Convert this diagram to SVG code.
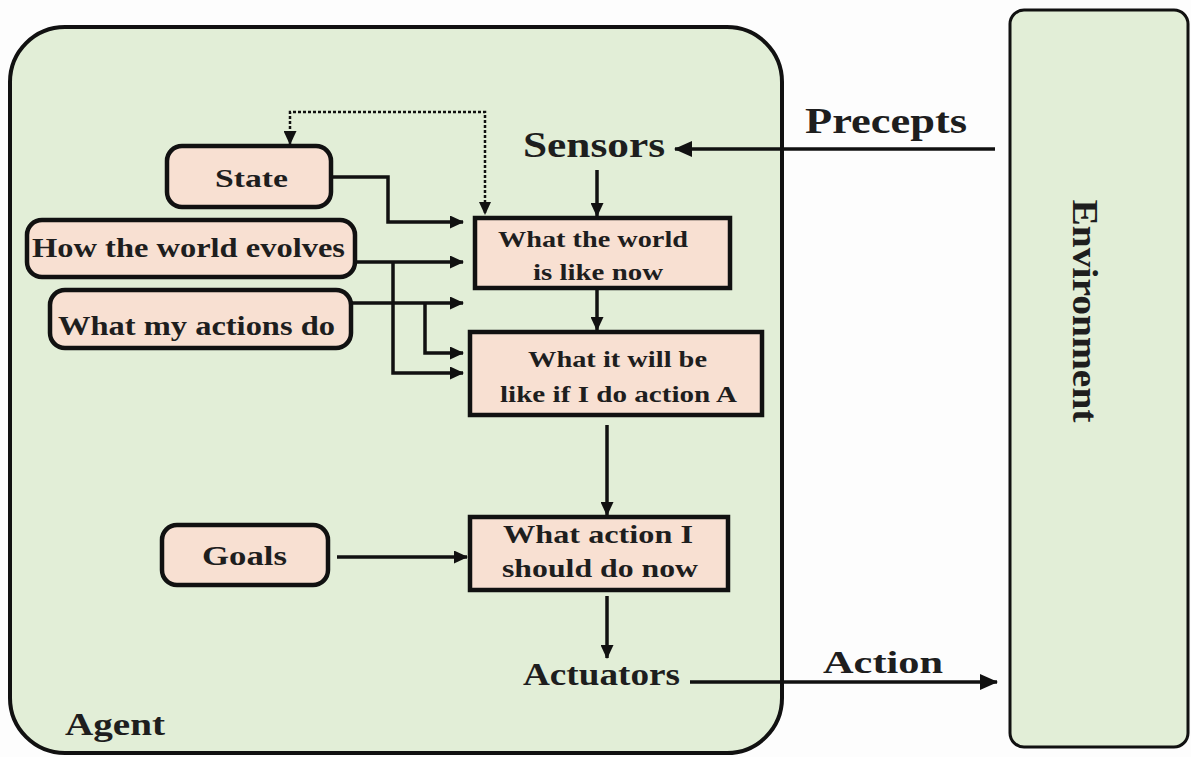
<svg xmlns="http://www.w3.org/2000/svg" width="1191" height="757" viewBox="0 0 1191 757">
<defs>
<marker id="ah" markerUnits="userSpaceOnUse" markerWidth="18" markerHeight="16" refX="17" refY="8" orient="auto">
<path d="M0,0 L18,8 L0,16 Z" fill="#111"/>
</marker>
<marker id="ahs" markerUnits="userSpaceOnUse" markerWidth="14" markerHeight="13" refX="13" refY="6.5" orient="auto">
<path d="M0,0 L14,6.5 L0,13 Z" fill="#111"/>
</marker>
</defs>
<style>
.panel{fill:#e2eed7;stroke:#111;stroke-width:4}
.env{fill:#e2eed7;stroke:#111;stroke-width:3}
.pill{fill:#f8e0d2;stroke:#111;stroke-width:4.5}
.box{fill:#f8e0d2;stroke:#111;stroke-width:4.5}
.t{font-family:"Liberation Serif",serif;font-weight:bold;fill:#1e1e1e}
.c{stroke:#111;stroke-width:3.5;fill:none}
.d{stroke:#111;stroke-width:2.5;fill:none;stroke-dasharray:3 2}
</style>
<rect width="1191" height="757" fill="#fdfdfd"/>
<g id="agent">
<rect class="panel" x="10" y="27" width="772" height="726" rx="55"/>
<text class="t" x="65" y="735" font-size="31" textLength="100" lengthAdjust="spacingAndGlyphs">Agent</text>
</g>
<g id="environment">
<rect class="env" x="1010" y="10" width="178" height="737" rx="14"/>
<text class="t" x="1073" y="311" font-size="36" text-anchor="middle" textLength="223" lengthAdjust="spacingAndGlyphs" transform="rotate(90 1073 311)">Environment</text>
</g>
<g id="sensors"><text class="t" x="523" y="157" font-size="35" textLength="142" lengthAdjust="spacingAndGlyphs">Sensors</text></g>
<g id="actuators"><text class="t" x="523" y="685" font-size="31" textLength="157" lengthAdjust="spacingAndGlyphs">Actuators</text></g>
<g id="precepts"><text class="t" x="805" y="133" font-size="35" textLength="162" lengthAdjust="spacingAndGlyphs">Precepts</text></g>
<g id="action"><text class="t" x="823" y="673" font-size="31" textLength="120" lengthAdjust="spacingAndGlyphs">Action</text></g>
<g id="state">
<rect class="pill" x="167" y="146" width="164" height="61" rx="15"/>
<text class="t" x="215" y="187" font-size="25" textLength="73" lengthAdjust="spacingAndGlyphs">State</text>
</g>
<g id="evolves">
<rect class="pill" x="27" y="220" width="328" height="57" rx="15"/>
<text class="t" x="32" y="257" font-size="27" textLength="313" lengthAdjust="spacingAndGlyphs">How the world evolves</text>
</g>
<g id="actionsdo">
<rect class="pill" x="50" y="290" width="301" height="58" rx="15"/>
<text class="t" x="58" y="335" font-size="27" textLength="277" lengthAdjust="spacingAndGlyphs">What my actions do</text>
</g>
<g id="goals">
<rect class="pill" x="162" y="525" width="166" height="60" rx="15"/>
<text class="t" x="202" y="565" font-size="27" textLength="85" lengthAdjust="spacingAndGlyphs">Goals</text>
</g>
<g id="worldnow">
<rect class="box" x="475" y="218" width="255" height="70"/>
<text class="t" x="498" y="247" font-size="23" textLength="190" lengthAdjust="spacingAndGlyphs">What the world</text>
<text class="t" x="533" y="280" font-size="23" textLength="130" lengthAdjust="spacingAndGlyphs">is like now</text>
</g>
<g id="willbe">
<rect class="box" x="470" y="332" width="292" height="83"/>
<text class="t" x="528" y="367" font-size="23" textLength="179" lengthAdjust="spacingAndGlyphs">What it will be</text>
<text class="t" x="500" y="402" font-size="23" textLength="237" lengthAdjust="spacingAndGlyphs">like if I do action A</text>
</g>
<g id="whataction">
<rect class="box" x="470" y="517" width="258" height="73"/>
<text class="t" x="503" y="543" font-size="25" textLength="190" lengthAdjust="spacingAndGlyphs">What action I</text>
<text class="t" x="502" y="577" font-size="25" textLength="196" lengthAdjust="spacingAndGlyphs">should do now</text>
</g>
<g id="connectors">
<path class="c" d="M995,149 H675" marker-end="url(#ah)"/>
<path class="c" d="M690,682 H997" marker-end="url(#ah)"/>
<path class="c" d="M597,170 V216" marker-end="url(#ahs)"/>
<path class="c" d="M597,290 V330" marker-end="url(#ahs)"/>
<path class="c" d="M607,425 V515" marker-end="url(#ahs)"/>
<path class="c" d="M607,596 V658" marker-end="url(#ahs)"/>
<path class="c" d="M337,557 H467" marker-end="url(#ahs)"/>
<path class="c" d="M331,177 H388 V222 H463" marker-end="url(#ahs)"/>
<path class="c" d="M355,262 H463" marker-end="url(#ahs)"/>
<path class="c" d="M393,262 V373 H463" marker-end="url(#ahs)"/>
<path class="c" d="M351,303 H463" marker-end="url(#ahs)"/>
<path class="c" d="M425,303 V353 H463" marker-end="url(#ahs)"/>
<path class="d" d="M485,213 V112 H290 V144" marker-end="url(#ahs)"/>
<path d="M479,202 L491,202 L485,215 Z" fill="#111"/>
</g>
</svg>
